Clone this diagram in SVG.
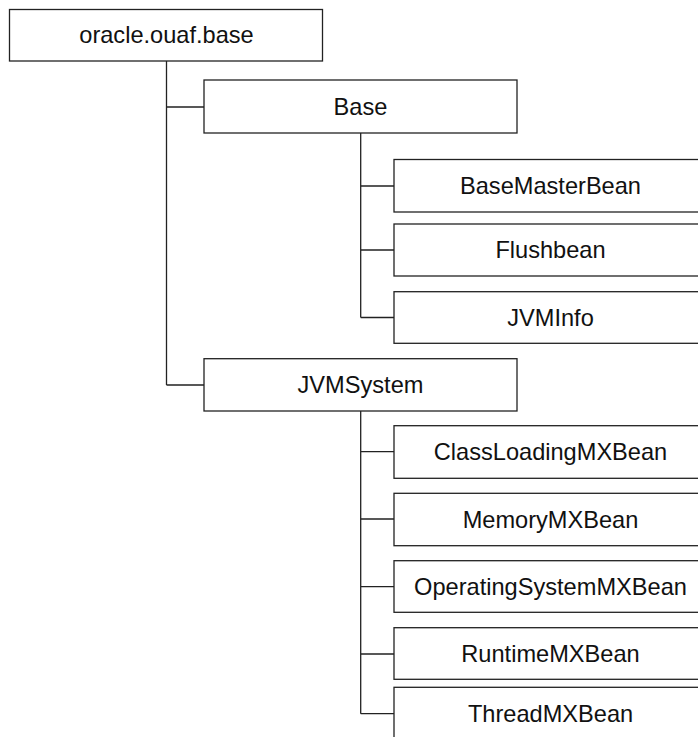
<svg xmlns="http://www.w3.org/2000/svg" width="698" height="737" viewBox="0 0 698 737">
<style>
.box{fill:#fff;stroke:#222;stroke-width:1.3}
.lbl{font-family:"Liberation Sans",Arial,sans-serif;font-size:23.6px;fill:#111;text-anchor:middle}
.conn{stroke:#222;stroke-width:1.3;fill:none}
</style>
<rect width="698" height="737" fill="#fff"/>
<g id="connectors">
<path class="conn" d="M166.5 61V385M166.5 107H204M166.5 385H204"/>
<path class="conn" d="M360.7 129V317.5M360.7 186H394M360.7 250H394M360.7 317.5H394"/>
<path class="conn" d="M360.7 411V713.7M360.7 451.7H394M360.7 519H394M360.7 586.7H394M360.7 654H394M360.7 713.7H394"/>
</g>
<g id="root"><rect class="box" x="9.5" y="9.5" width="313" height="51.5"/><text class="lbl" x="166.5" y="43.3">oracle.ouaf.base</text></g>
<g id="base"><rect class="box" x="204" y="80" width="313" height="53"/><text class="lbl" x="360.5" y="115">Base</text></g>
<g id="basemasterbean"><rect class="box" x="394" y="159.5" width="313" height="52.5"/><text class="lbl" x="550.5" y="194">BaseMasterBean</text></g>
<g id="flushbean"><rect class="box" x="394" y="224" width="313" height="52"/><text class="lbl" x="550.5" y="258.3">Flushbean</text></g>
<g id="jvminfo"><rect class="box" x="394" y="291.7" width="313" height="51.6"/><text class="lbl" x="550.5" y="325.8">JVMInfo</text></g>
<g id="jvmsystem"><rect class="box" x="204" y="358.7" width="313" height="52.3"/><text class="lbl" x="360.5" y="393">JVMSystem</text></g>
<g id="classloading"><rect class="box" x="394" y="425.7" width="313" height="52.6"/><text class="lbl" x="550.5" y="460.3">ClassLoadingMXBean</text></g>
<g id="memory"><rect class="box" x="394" y="493.3" width="313" height="52.4"/><text class="lbl" x="550.5" y="527.8">MemoryMXBean</text></g>
<g id="operatingsystem"><rect class="box" x="394" y="560.7" width="313" height="51.6"/><text class="lbl" x="550.5" y="594.8">OperatingSystemMXBean</text></g>
<g id="runtime"><rect class="box" x="394" y="627.7" width="313" height="51.6"/><text class="lbl" x="550.5" y="661.8">RuntimeMXBean</text></g>
<g id="thread"><rect class="box" x="394" y="687.3" width="313" height="52"/><text class="lbl" x="550.5" y="721.8">ThreadMXBean</text></g>
</svg>
